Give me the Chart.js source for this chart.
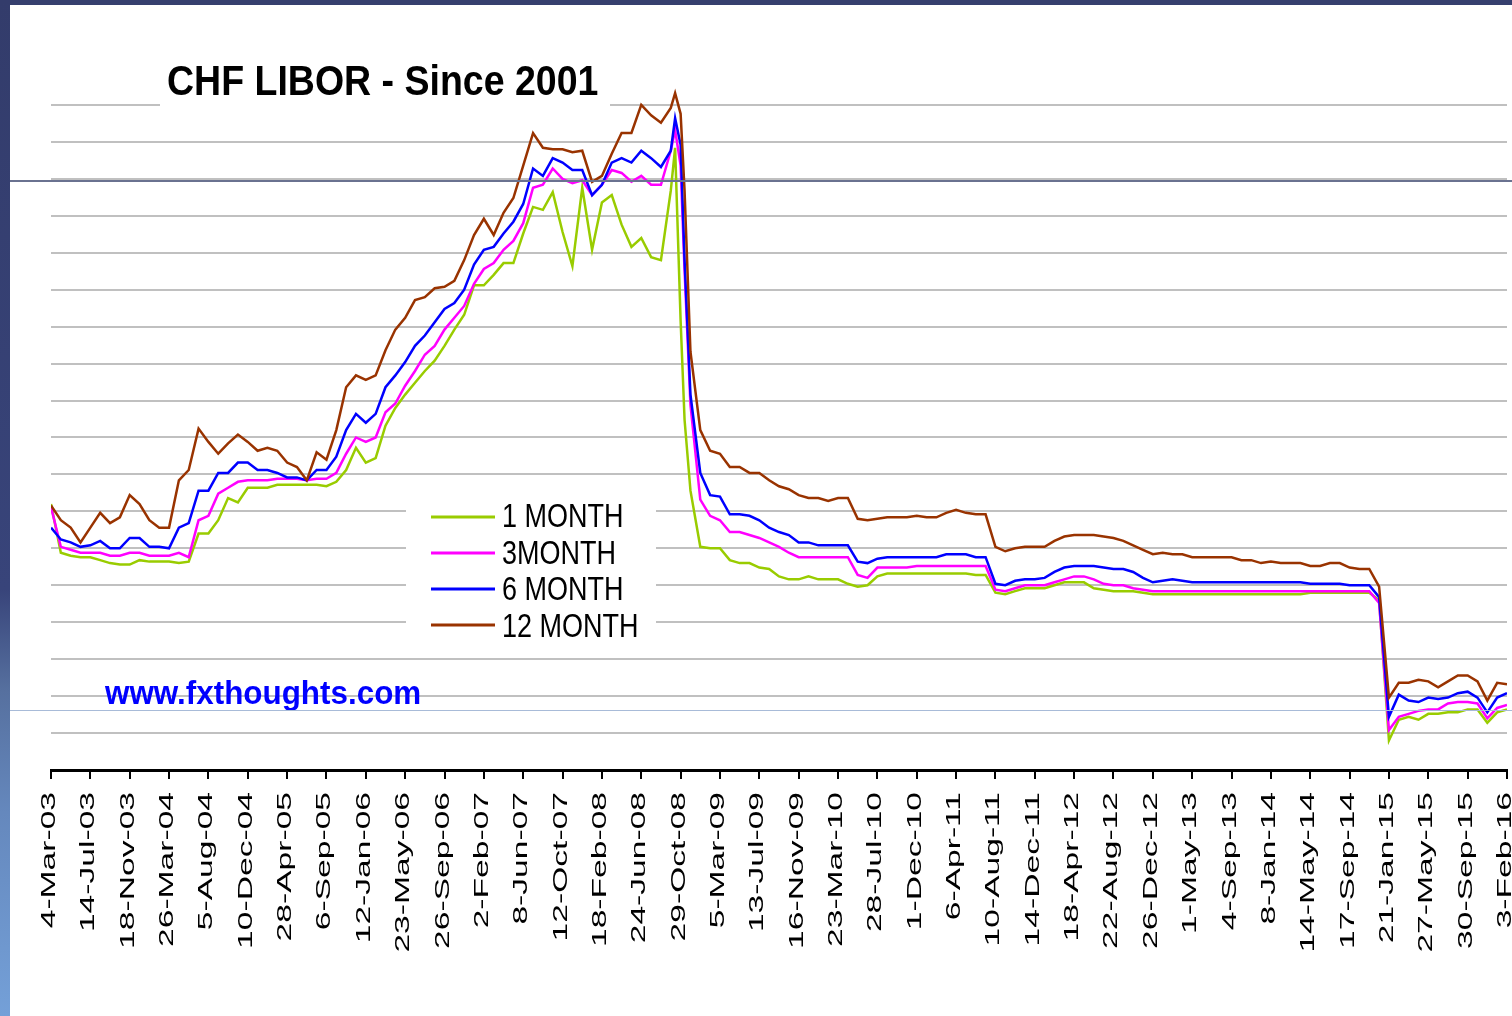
<!DOCTYPE html>
<html>
<head>
<meta charset="utf-8">
<title>CHF LIBOR - Since 2001</title>
<script src="https://cdn.jsdelivr.net/npm/chart.js@4.4.1/dist/chart.umd.min.js"></script>
<style>
  html, body { margin: 0; padding: 0; background: #fff; overflow: hidden; }
  #wrap { position: relative; width: 1512px; height: 1016px; overflow: hidden; background: #fff; }
  #myChart { position: absolute; left: 0; top: 0; }
  .guide { position: absolute; left: 10px; width: 1502px; }
  .guide.dark { top: 180px; height: 2px; background: #6a7290; }
  .guide.light { top: 710px; height: 1px; background: #a8bbd8; }
  .frameTop { position: absolute; left: 0; top: 0; width: 1512px; height: 5px; background: #363f6e; }
  .frameLeft { position: absolute; left: 0; top: 0; width: 10px; height: 1016px;
    background: linear-gradient(#333c6b 0%, #38447a 58%, #56709f 68%, #6588bd 80%, #74a0d8 100%); }
</style>
</head>
<body>
<div id="wrap">
  <canvas id="myChart" width="1530" height="1016" style="width:1530px;height:1016px"></canvas>
  <div class="guide dark"></div>
  <div class="guide light"></div>
  <div class="frameTop"></div>
  <div class="frameLeft"></div>
</div>
<script>
const chartTitle = "CHF LIBOR - Since 2001";
const siteName = "www.fxthoughts.com";

var tickLabels = ["4-Mar-03", "14-Jul-03", "18-Nov-03", "26-Mar-04", "5-Aug-04", "10-Dec-04",
  "28-Apr-05", "6-Sep-05", "12-Jan-06", "23-May-06", "26-Sep-06", "2-Feb-07", "8-Jun-07",
  "12-Oct-07", "18-Feb-08", "24-Jun-08", "29-Oct-08", "5-Mar-09", "13-Jul-09", "16-Nov-09",
  "23-Mar-10", "28-Jul-10", "1-Dec-10", "6-Apr-11", "10-Aug-11", "14-Dec-11", "18-Apr-12",
  "22-Aug-12", "26-Dec-12", "1-May-13", "4-Sep-13", "8-Jan-14", "14-May-14", "17-Sep-14",
  "21-Jan-15", "27-May-15", "30-Sep-15", "3-Feb-16"];

var seriesNames = ["1 MONTH", "3MONTH", "6 MONTH", "12 MONTH"];
var seriesColors = ["#99cc00", "#ff00ff", "#0000ff", "#993300"];

// sample positions, in units of the date ticks above
var xPos = [
  0, 0.25, 0.5, 0.75,  1, 1.25, 1.5, 1.75,  2, 2.25, 2.5, 2.75,  3, 3.25, 3.5, 3.75,
  4, 4.25, 4.5, 4.75,  5, 5.25, 5.5, 5.75,  6, 6.25, 6.5, 6.75,  7, 7.25, 7.5, 7.75,
  8, 8.25, 8.5, 8.75,  9, 9.25, 9.5, 9.75,  10, 10.25, 10.5, 10.75,  11, 11.25, 11.5, 11.75,
  12, 12.25, 12.5, 12.75,  13, 13.25, 13.5, 13.75,  14, 14.25, 14.5, 14.75,
  15, 15.25, 15.5, 15.75, 15.86,  16, 16.1, 16.25, 16.5, 16.75,
  17, 17.25, 17.5, 17.75,  18, 18.25, 18.5, 18.75,  19, 19.25, 19.5, 19.75,
  20, 20.25, 20.5, 20.75,  21, 21.25, 21.5, 21.75,  22, 22.25, 22.5, 22.75,
  23, 23.25, 23.5, 23.75,  24, 24.25, 24.5, 24.75,  25, 25.25, 25.5, 25.75,
  26, 26.25, 26.5, 26.75,  27, 27.25, 27.5, 27.75,  28, 28.25, 28.5, 28.75,
  29, 29.25, 29.5, 29.75,  30, 30.25, 30.5, 30.75,  31, 31.25, 31.5, 31.75,
  32, 32.25, 32.5, 32.75,  33, 33.25, 33.5, 33.75,  34, 34.25, 34.5, 34.75,
  35, 35.25, 35.5, 35.75,  36, 36.25, 36.5, 36.75,  37];

var oneMonth = [
  0.55, 0.22, 0.20, 0.19,  0.19, 0.17, 0.15, 0.14,  0.14, 0.17, 0.16, 0.16,  0.16, 0.15, 0.16, 0.35,
  0.35, 0.44, 0.59, 0.56,  0.66, 0.66, 0.66, 0.68,  0.68, 0.68, 0.68, 0.68,  0.67, 0.70, 0.78, 0.93,
  0.83, 0.86, 1.08, 1.20,  1.29, 1.37, 1.45, 1.52,  1.62, 1.73, 1.83, 2.03,  2.03, 2.10, 2.18, 2.18,
  2.38, 2.56, 2.54, 2.66,  2.39, 2.16, 2.69, 2.27,  2.59, 2.64, 2.44, 2.29,
  2.35, 2.22, 2.20, 2.67, 2.96,  1.79, 1.12, 0.64, 0.26, 0.25,
  0.25, 0.17, 0.15, 0.15,  0.12, 0.11, 0.06, 0.04,  0.04, 0.06, 0.04, 0.04,
  0.04, 0.01, -0.01, 0.00,  0.06, 0.08, 0.08, 0.08,  0.08, 0.08, 0.08, 0.08,
  0.08, 0.08, 0.07, 0.07,  -0.05, -0.06, -0.04, -0.02,  -0.02, -0.02, 0.00, 0.02,
  0.02, 0.02, -0.02, -0.03,  -0.04, -0.04, -0.04, -0.05,  -0.06, -0.06, -0.06, -0.06,
  -0.06, -0.06, -0.06, -0.06,  -0.06, -0.06, -0.06, -0.06,  -0.06, -0.06, -0.06, -0.06,
  -0.05, -0.05, -0.05, -0.05,  -0.05, -0.05, -0.05, -0.10,  -1.05, -0.91, -0.89, -0.91,
  -0.87, -0.87, -0.86, -0.86,  -0.84, -0.84, -0.93, -0.86,  -0.84];

var threeMonth = [
  0.53, 0.26, 0.24, 0.22,  0.22, 0.22, 0.20, 0.20,  0.22, 0.22, 0.20, 0.20,  0.20, 0.22, 0.19, 0.44,
  0.47, 0.62, 0.66, 0.70,  0.71, 0.71, 0.71, 0.72,  0.72, 0.72, 0.71, 0.72,  0.72, 0.76, 0.89, 1.00,
  0.97, 1.00, 1.17, 1.23,  1.35, 1.45, 1.56, 1.62,  1.73, 1.81, 1.89, 2.04,  2.14, 2.18, 2.27, 2.33,
  2.45, 2.69, 2.71, 2.82,  2.75, 2.72, 2.74, 2.64,  2.71, 2.81, 2.79, 2.73,
  2.77, 2.71, 2.71, 2.94, 3.08,  2.84, 2.13, 1.22, 0.58, 0.47,
  0.44, 0.36, 0.36, 0.34,  0.32, 0.29, 0.26, 0.22,  0.19, 0.19, 0.19, 0.19,
  0.19, 0.19, 0.07, 0.05,  0.12, 0.12, 0.12, 0.12,  0.13, 0.13, 0.13, 0.13,
  0.13, 0.13, 0.13, 0.13,  -0.03, -0.04, -0.02, 0.00,  0.00, 0.00, 0.02, 0.04,
  0.06, 0.06, 0.04, 0.01,  0.00, 0.00, -0.02, -0.03,  -0.04, -0.04, -0.04, -0.04,
  -0.04, -0.04, -0.04, -0.04,  -0.04, -0.04, -0.04, -0.04,  -0.04, -0.04, -0.04, -0.04,
  -0.04, -0.04, -0.04, -0.04,  -0.04, -0.04, -0.04, -0.12,  -0.98, -0.89, -0.87, -0.85,
  -0.84, -0.84, -0.80, -0.79,  -0.79, -0.80, -0.90, -0.83,  -0.81];

var sixMonth = [
  0.39, 0.31, 0.29, 0.26,  0.27, 0.30, 0.25, 0.25,  0.32, 0.32, 0.26, 0.26,  0.25, 0.39, 0.42, 0.64,
  0.64, 0.76, 0.76, 0.83,  0.83, 0.78, 0.78, 0.76,  0.73, 0.73, 0.71, 0.78,  0.78, 0.87, 1.05, 1.16,
  1.10, 1.16, 1.34, 1.42,  1.51, 1.62, 1.69, 1.78,  1.87, 1.91, 2.00, 2.17,  2.27, 2.29, 2.38, 2.46,
  2.58, 2.82, 2.77, 2.89,  2.86, 2.81, 2.81, 2.64,  2.71, 2.86, 2.89, 2.86,
  2.94, 2.89, 2.83, 2.94, 3.16,  2.98, 2.20, 1.29, 0.76, 0.61,
  0.60, 0.48, 0.48, 0.47,  0.44, 0.39, 0.36, 0.34,  0.29, 0.29, 0.27, 0.27,
  0.27, 0.27, 0.16, 0.15,  0.18, 0.19, 0.19, 0.19,  0.19, 0.19, 0.19, 0.21,
  0.21, 0.21, 0.19, 0.19,  0.01, 0.00, 0.03, 0.04,  0.04, 0.05, 0.09, 0.12,
  0.13, 0.13, 0.13, 0.12,  0.11, 0.11, 0.09, 0.05,  0.02, 0.03, 0.04, 0.03,
  0.02, 0.02, 0.02, 0.02,  0.02, 0.02, 0.02, 0.02,  0.02, 0.02, 0.02, 0.02,
  0.01, 0.01, 0.01, 0.01,  0.00, 0.00, 0.00, -0.08,  -0.89, -0.74, -0.78, -0.79,
  -0.76, -0.77, -0.76, -0.73,  -0.72, -0.76, -0.86, -0.76,  -0.73];

var twelveMonth = [
  0.54, 0.44, 0.39, 0.29,  0.39, 0.49, 0.42, 0.46,  0.61, 0.55, 0.44, 0.39,  0.39, 0.71, 0.78, 1.06,
  0.97, 0.89, 0.96, 1.02,  0.97, 0.91, 0.93, 0.91,  0.83, 0.80, 0.71, 0.90,  0.85, 1.05, 1.34, 1.42,
  1.39, 1.42, 1.59, 1.73,  1.81, 1.93, 1.95, 2.01,  2.02, 2.06, 2.20, 2.37,  2.48, 2.37, 2.52, 2.62,
  2.84, 3.06, 2.96, 2.95,  2.95, 2.93, 2.94, 2.73,  2.77, 2.92, 3.06, 3.06,
  3.25, 3.18, 3.13, 3.23, 3.33,  3.19, 2.67, 1.58, 1.05, 0.91,
  0.89, 0.80, 0.80, 0.76,  0.76, 0.71, 0.67, 0.65,  0.61, 0.59, 0.59, 0.57,
  0.59, 0.59, 0.45, 0.44,  0.45, 0.46, 0.46, 0.46,  0.47, 0.46, 0.46, 0.49,
  0.51, 0.49, 0.48, 0.48,  0.26, 0.23, 0.25, 0.26,  0.26, 0.26, 0.30, 0.33,
  0.34, 0.34, 0.34, 0.33,  0.32, 0.30, 0.27, 0.24,  0.21, 0.22, 0.21, 0.21,
  0.19, 0.19, 0.19, 0.19,  0.19, 0.17, 0.17, 0.15,  0.16, 0.15, 0.15, 0.15,
  0.13, 0.13, 0.15, 0.15,  0.12, 0.11, 0.11, -0.01,  -0.76, -0.66, -0.66, -0.64,
  -0.65, -0.69, -0.65, -0.61,  -0.61, -0.65, -0.78, -0.66,  -0.67];

var allSeries = [oneMonth, threeMonth, sixMonth, twelveMonth];

function toPoints(values) {
  return xPos.map((x, i) => ({ x: x, y: values[i] }));
}

// title, legend box, web address and the stretched date labels
const decorations = {
  id: 'decorations',
  beforeDatasetsDraw(chart) {
    const ctx = chart.ctx;
    ctx.save();
    ctx.fillStyle = '#fff';
    ctx.fillRect(160, 40, 450, 68);
    ctx.fillRect(406, 490, 250, 155);
    ctx.restore();
  },
  afterDatasetsDraw(chart) {
    const ctx = chart.ctx;

    ctx.save();
    ctx.fillStyle = '#000';
    ctx.font = 'bold 37.5px Arial, "Liberation Sans"';
    ctx.textBaseline = 'alphabetic';
    ctx.translate(167, 95);
    ctx.scale(1, 1.12);
    ctx.fillText(chartTitle, 0, 0);
    ctx.restore();

    chart.data.datasets.forEach((ds, i) => {
      const ly = 517 + i * 36;
      ctx.save();
      ctx.strokeStyle = ds.borderColor;
      ctx.lineWidth = 3;
      ctx.beginPath();
      ctx.moveTo(431, ly);
      ctx.lineTo(495, ly);
      ctx.stroke();
      ctx.fillStyle = '#000';
      ctx.font = '27px Arial, "Liberation Sans"';
      ctx.translate(502, 527 + i * 36.7);
      ctx.scale(1, 1.25);
      ctx.fillText(ds.label, 0, 0);
      ctx.restore();
    });

    ctx.save();
    ctx.fillStyle = '#0000ff';
    ctx.font = 'bold 31.4px Arial, "Liberation Sans"';
    ctx.translate(105, 704);
    ctx.scale(1, 1.05);
    ctx.fillText(siteName, 0, 0);
    ctx.restore();
  },
  afterDraw(chart) {
    const ctx = chart.ctx;
    const xs = chart.scales.x;
    ctx.save();
    ctx.fillStyle = '#000';
    ctx.font = '21px Arial, "Liberation Sans"';
    ctx.textAlign = 'right';
    ctx.textBaseline = 'alphabetic';
    tickLabels.forEach((lab, i) => {
      const px = xs.getPixelForValue(i);
      ctx.save();
      ctx.translate(px + 4, 792);
      ctx.rotate(-Math.PI / 2);
      ctx.scale(1.6, 1);
      ctx.fillText(lab, 0, 0);
      ctx.restore();
    });
    ctx.restore();
  }
};

new Chart("myChart", {
  type: "line",
  data: {
    datasets: allSeries.map((vals, i) => ({
      label: seriesNames[i],
      data: toPoints(vals),
      borderColor: seriesColors[i],
      backgroundColor: seriesColors[i],
      borderWidth: 2.5,
      pointRadius: 0,
      tension: 0,
      fill: false,
      order: 3 - i
    }))
  },
  options: {
    responsive: false,
    animation: false,
    devicePixelRatio: 1,
    layout: { padding: { left: 51, right: 23, top: 68, bottom: 237 } },
    plugins: {
      legend: { display: false },
      title: { display: false },
      tooltip: { enabled: false }
    },
    scales: {
      x: {
        type: "linear",
        min: 0,
        max: tickLabels.length - 1,
        afterBuildTicks: axis => { axis.ticks = tickLabels.map((t, i) => ({ value: i })); },
        ticks: { display: false, autoSkip: false },
        grid: { drawOnChartArea: false, drawTicks: true, tickLength: 9, color: "#000", lineWidth: 2 },
        border: { display: true, color: "#000", width: 3 }
      },
      y: {
        min: -1.25,
        max: 3.5,
        ticks: { display: false, stepSize: 0.25 },
        grid: {
          drawTicks: false,
          lineWidth: 2,
          color: c => (c.tick.value > 3.3 || c.tick.value < -1.2) ? "rgba(0,0,0,0)" : "#c0c0c0"
        },
        border: { display: false }
      }
    }
  },
  plugins: [decorations]
});
</script>
</body>
</html>
